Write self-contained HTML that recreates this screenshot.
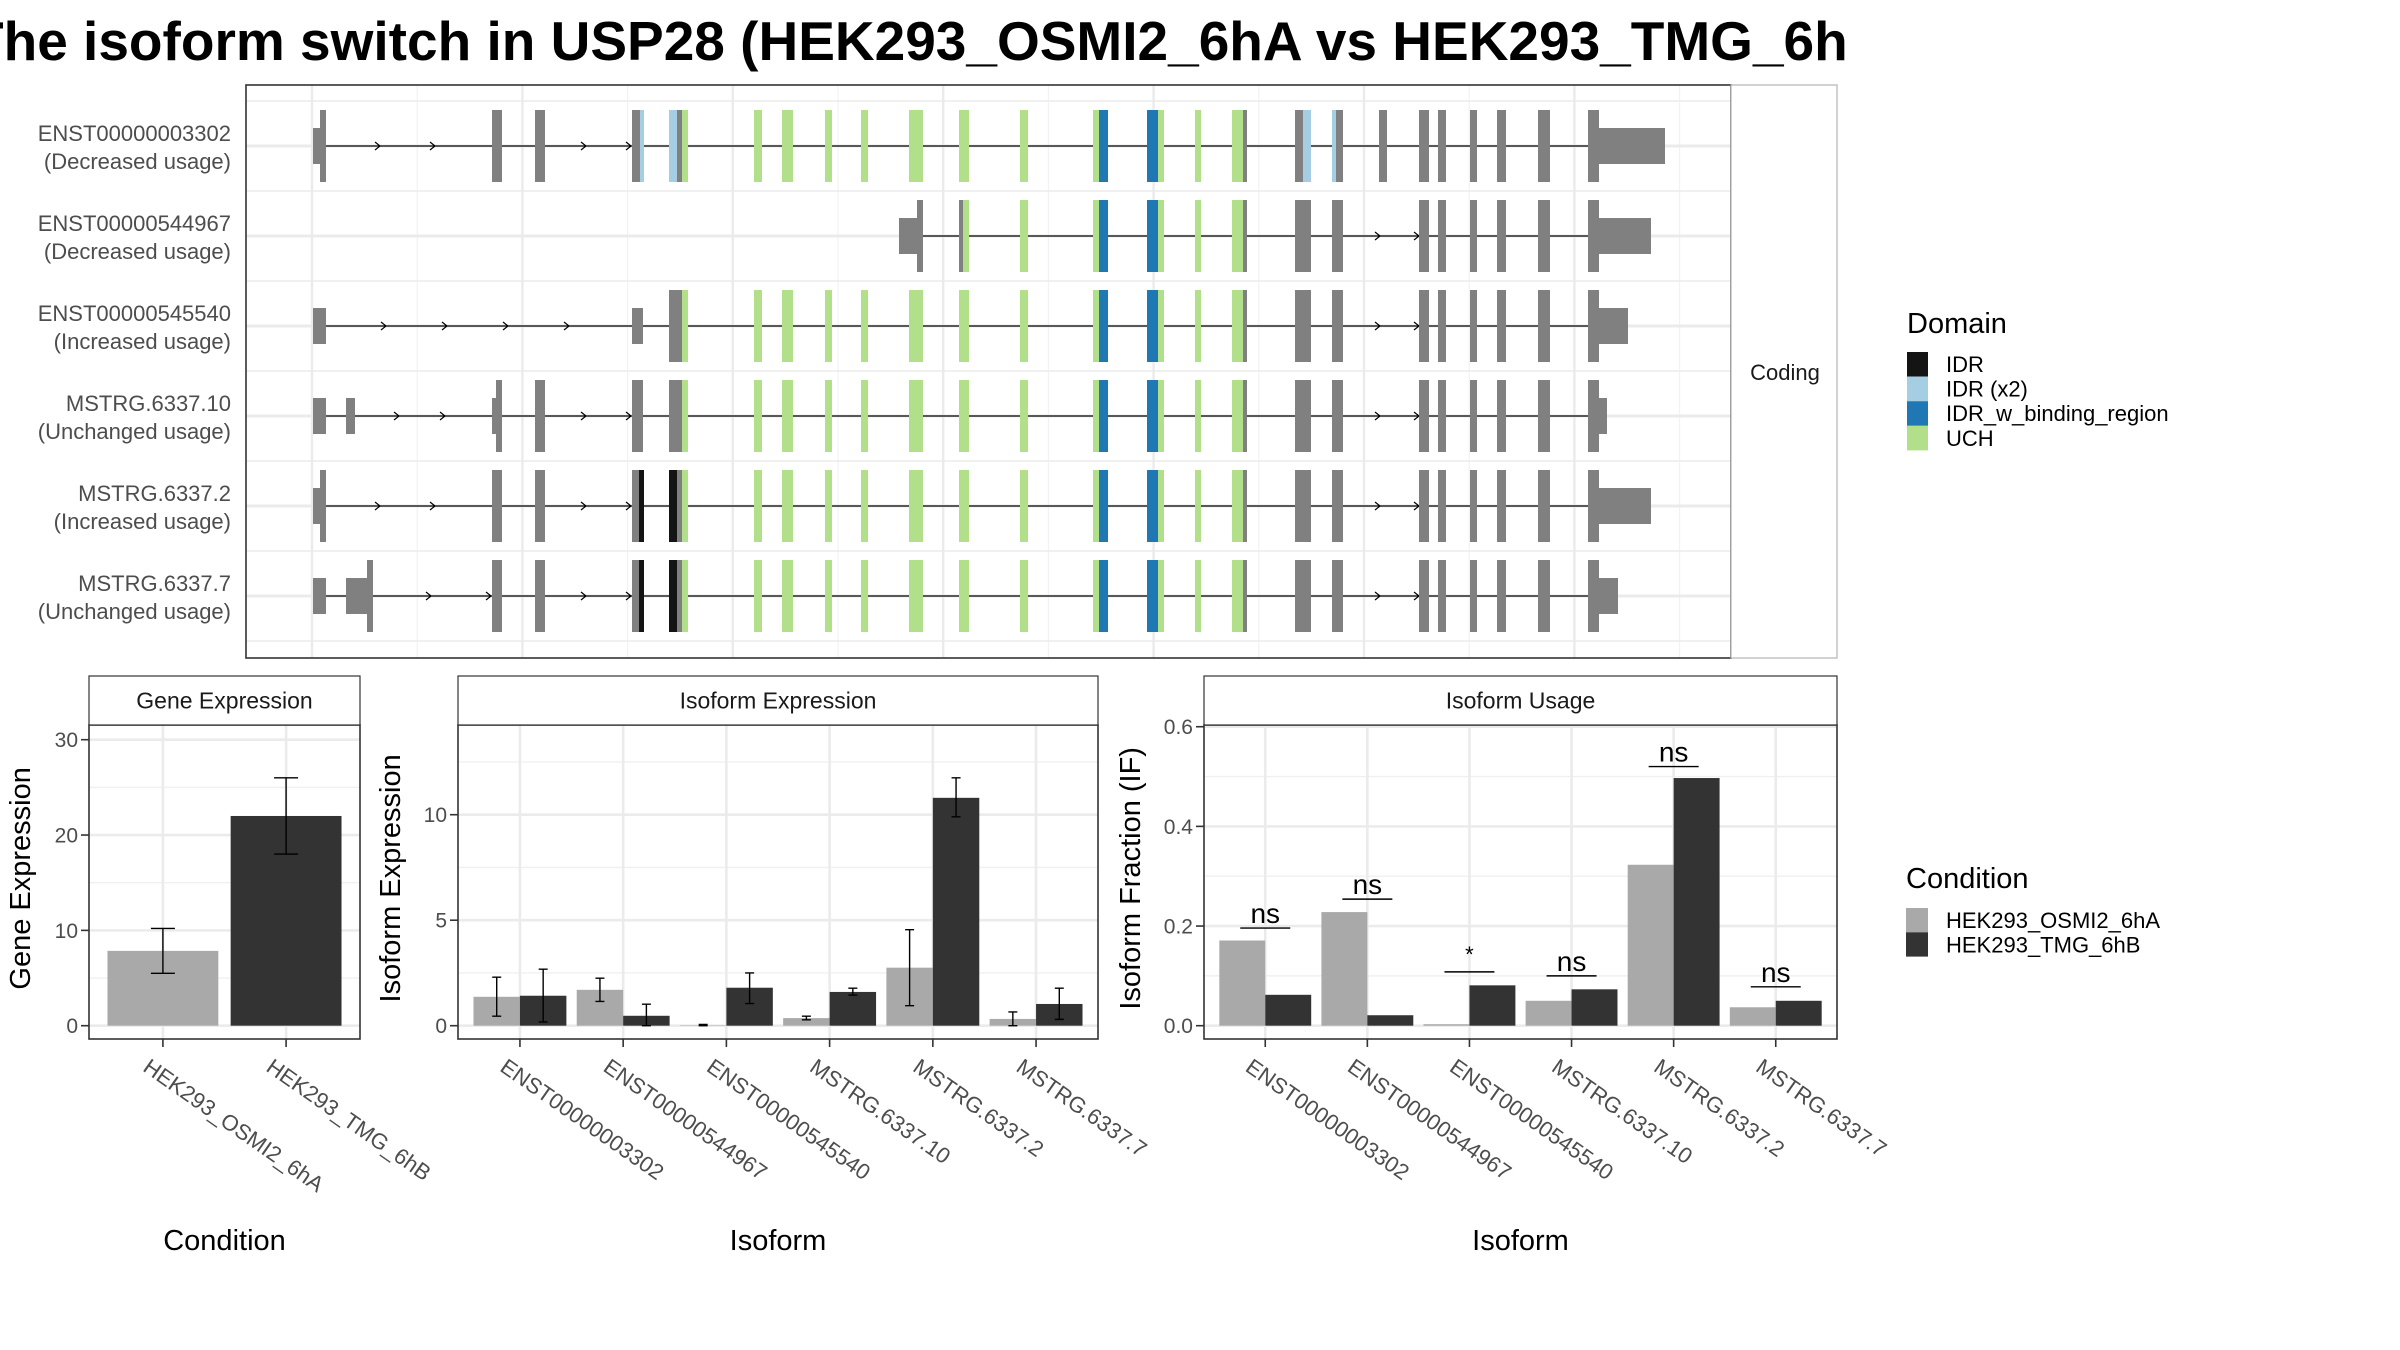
<!DOCTYPE html>
<html><head><meta charset="utf-8"><style>
html,body{margin:0;padding:0;background:#fff}
svg{display:block;font-family:"Liberation Sans",Arial,sans-serif}
</style></head><body>
<svg id="root" width="2400" height="1350" viewBox="0 0 2400 1350" xmlns="http://www.w3.org/2000/svg">
<defs><clipPath id="titleclip"><rect x="0" y="0" width="1848" height="80"/></clipPath></defs>
<rect width="2400" height="1350" fill="#fff"/>
<g clip-path="url(#titleclip)"><text x="-30" y="60" font-size="55" font-weight="bold" fill="#000">The isoform switch in USP28 (HEK293_OSMI2_6hA vs HEK293_TMG_6hB)</text></g>
<g id="topPanel"></g>
<g id="gene"></g>
<g id="iso"></g>
<g id="usage"></g>
<g id="legends"></g>
</svg>
<script>
// ---------- Data ----------
const transcriptNames = ["ENST00000003302","ENST00000544967","ENST00000545540","MSTRG.6337.10","MSTRG.6337.2","MSTRG.6337.7"];
const transcriptUsage = ["(Decreased usage)","(Decreased usage)","(Increased usage)","(Unchanged usage)","(Increased usage)","(Unchanged usage)"];
// exon segments: [start, end, colorKey, tall(1)/short(0)] in genomic plot units
const midExons = [[754,762,"u",1],[782,793,"u",1],[825,832,"u",1],[861,868,"u",1],[909,923,"u",1],[959,969,"u",1],[1020,1028,"u",1],[1093,1099,"u",1],[1099,1108,"b",1],[1147,1158,"b",1],[1158,1164,"u",1],[1195,1201,"u",1],[1232,1243,"u",1],[1243,1247,"g",1]];
const lateExons = [[1295,1311,"g",1],[1332,1343,"g",1],[1419,1429,"g",1],[1438,1446,"g",1],[1470,1477,"g",1],[1497,1506,"g",1],[1538,1550,"g",1],[1588,1599,"g",1]];
const exonsEarly = [
 [[313,320,"g",0],[320,326,"g",1],[492,502,"g",1],[535,545,"g",1],[632,640,"g",1],[640,644,"l",1],[669,677,"l",1],[677,682,"g",1],[682,688,"u",1]],
 [[899,917,"g",0],[917,923,"g",1]],
 [[313,326,"g",0],[632,643,"g",0],[669,682,"g",1],[682,688,"u",1]],
 [[313,326,"g",0],[346,355,"g",0],[492,496,"g",0],[496,502,"g",1],[535,545,"g",1],[632,643,"g",1],[669,682,"g",1],[682,688,"u",1]],
 [[313,320,"g",0],[320,326,"g",1],[492,502,"g",1],[535,545,"g",1],[632,639,"g",1],[639,644,"k",1],[669,677,"k",1],[677,682,"g",1],[682,688,"u",1]],
 [[313,326,"g",0],[346,367,"g",0],[367,373,"g",1],[492,502,"g",1],[535,545,"g",1],[632,639,"g",1],[639,644,"k",1],[669,677,"k",1],[677,682,"g",1],[682,688,"u",1]]
];
const utrEnd = [1665,1651,1628,1607,1651,1618];
const intronArrows = [[379,434,585,630],[1379,1418],[385,446,507,568,1379,1418],[398,444,585,630,1379,1418],[379,434,585,630,1379,1418],[430,490,585,630,1379,1418]];

const conditions = ["HEK293_OSMI2_6hA","HEK293_TMG_6hB"];
const geneExpr = [7.85, 22.0];
const geneLo = [5.5, 18.0];
const geneHi = [10.2, 26.0];
const geneTicks = [0,10,20,30];

const isoforms = ["ENST00000003302","ENST00000544967","ENST00000545540","MSTRG.6337.10","MSTRG.6337.2","MSTRG.6337.7"];
const isoA = [1.37,1.70,0.02,0.36,2.75,0.32];
const isoB = [1.42,0.47,1.80,1.60,10.80,1.03];
const isoALo = [0.45,1.15,0.0,0.28,0.95,0.0];
const isoAHi = [2.30,2.25,0.06,0.45,4.55,0.65];
const isoBLo = [0.18,0.0,1.05,1.45,9.90,0.30];
const isoBHi = [2.68,1.02,2.50,1.78,11.75,1.78];
const isoTicks = [0,5,10];

const usageA = [0.171,0.228,0.003,0.050,0.323,0.037];
const usageB = [0.062,0.021,0.081,0.073,0.497,0.050];
const sigLabels = ["ns","ns","*","ns","ns","ns"];
const sigY = [0.196,0.254,0.108,0.100,0.52,0.078];
const usageTicks = [0.0,0.2,0.4,0.6];
const usageTickLabels = ["0.0","0.2","0.4","0.6"];

const domainNames = ["IDR","IDR (x2)","IDR_w_binding_region","UCH"];
const domainColors = ["#141414","#a6cee3","#1f78b4","#b2df8a"];
const COL = {g:"#808080",l:"#a6cee3",b:"#1f78b4",k:"#141414",u:"#b2df8a"};
const LIGHT="#a9a9a9", DARK="#333333";

const SVGNS="http://www.w3.org/2000/svg";
function mk(parent,tag,attrs,text){const e=document.createElementNS(SVGNS,tag);for(const k in attrs)e.setAttribute(k,attrs[k]);if(text!==undefined)e.textContent=text;parent.appendChild(e);return e;}

// ---------- Top transcript panel ----------
const topG=document.getElementById('topPanel');
const P={l:246,t:85,r:1731,b:658};
const gx=v=>v; // genomic units map 1:1 to px
const rowY=i=>146+i*90;
for(let k=0;k<7;k++){const x=312+k*210.4;
  const ln=mk(topG,'line',{x1:x,x2:x,y1:P.t,y2:P.b,stroke:'#ebebeb','stroke-width':2.4});
  
  const m=mk(topG,'line',{x1:x+105.2,x2:x+105.2,y1:P.t,y2:P.b,stroke:'#f2f2f2','stroke-width':1.2});
  
}
for(let i=0;i<6;i++){
  const y=rowY(i);
  const g1=mk(topG,'line',{x1:P.l,x2:P.r,y1:y,y2:y,stroke:'#ebebeb','stroke-width':3});
  
  const g2=mk(topG,'line',{x1:P.l,x2:P.r,y1:y-45,y2:y-45,stroke:'#ebebeb','stroke-width':1.5});
  
}
const g3=mk(topG,'line',{x1:P.l,x2:P.r,y1:rowY(5)+45,y2:rowY(5)+45,stroke:'#ebebeb','stroke-width':1.5});


for(let i=0;i<6;i++){
  const y=rowY(i);
  const grp=mk(topG,'g',{});
  
  let ex=exonsEarly[i].slice();
  if(i===1){ex=ex.concat([[959,963,"g",1],[963,969,"u",1]]).concat(midExons.filter(e=>e[0]>=1020));}
  else ex=ex.concat(midExons);
  let late=lateExons.slice();
  if(i===0){late=[[1295,1303,"g",1],[1303,1311,"l",1],[1332,1336,"l",1],[1336,1343,"g",1],[1379,1387,"g",1]].concat(lateExons.slice(2));}
  ex=ex.concat(late);
  ex.push([1599,utrEnd[i],"g",0]);
  const x0=gx(ex[0][0]), x1=gx(utrEnd[i]);
  const intr=mk(grp,'line',{x1:x0,x2:x1,y1:y,y2:y,stroke:'#000','stroke-width':1.3});
  
  intronArrows[i].forEach(a=>{const p=mk(grp,'path',{d:`M${gx(a)-4},${y-4} L${gx(a)+1},${y} L${gx(a)-4},${y+4}`,fill:'none',stroke:'#000','stroke-width':1.2});
    });
  ex.forEach(e=>{const h=e[3]?36:18;const r=mk(grp,'rect',{x:gx(e[0]),y:y-h,width:gx(e[1])-gx(e[0]),height:2*h,fill:COL[e[2]]});
    });
  const t1=mk(topG,'text',{x:231,y:y-5,'text-anchor':'end','font-size':22,fill:'#4d4d4d'},transcriptNames[i]);
  
  const t2=mk(topG,'text',{x:231,y:y+23,'text-anchor':'end','font-size':22,fill:'#4d4d4d'},transcriptUsage[i]);
  
}
const pb=mk(topG,'rect',{x:P.l,y:P.t,width:P.r-P.l,height:P.b-P.t,fill:'none',stroke:'#333','stroke-width':1.6});

const sb=mk(topG,'rect',{x:P.r,y:P.t,width:106,height:P.b-P.t,fill:'#fff',stroke:'#b3b3b3','stroke-width':1.2});

const st=mk(topG,'text',{x:1785,y:380,'text-anchor':'middle','font-size':22,fill:'#1a1a1a'},'Coding');


// ---------- generic bar panel ----------
function panel(gid,opt){
  const G=document.getElementById(gid);
  const {l,r,t,b,stripTop,title,cats,ymin,ticks,tickLabels,ytitle,ytitleX,xtitle}=opt;
  const yS=v=>opt.y0+(v)*opt.k;
  const n=cats.length; const s=(r-l)/(n-1+1.2);
  const xS=i=>l+0.6*s+i*s;
  for(let j=0;j<ticks.length;j++){const y=yS(ticks[j]);
    const gl=mk(G,'line',{x1:l,x2:r,y1:y,y2:y,stroke:'#ebebeb','stroke-width':2.6});
    const mv=ticks[j]+(ticks[1]-ticks[0])/2;const ym=yS(mv);
    if(ym>t){const ml=mk(G,'line',{x1:l,x2:r,y1:ym,y2:ym,stroke:'#f0f0f0','stroke-width':1.4});}}
  for(let i=0;i<n;i++){const gl=mk(G,'line',{x1:xS(i),x2:xS(i),y1:t,y2:b,stroke:'#ebebeb','stroke-width':2.6});}
  opt.draw(G,xS,yS,s);
  const bd=mk(G,'rect',{x:l,y:t,width:r-l,height:b-t,fill:'none',stroke:'#333','stroke-width':1.6});
  
  const sr=mk(G,'rect',{x:l,y:stripTop,width:r-l,height:t-stripTop,fill:'#fff',stroke:'#333','stroke-width':1.2});
  
  const stt=mk(G,'text',{x:(l+r)/2,y:(stripTop+t)/2+8,'text-anchor':'middle','font-size':23,fill:'#1a1a1a'},title);
  
  ticks.forEach((v,j)=>{const y=yS(v);
    const tk=mk(G,'line',{x1:l-8,x2:l,y1:y,y2:y,stroke:'#333','stroke-width':1.6});
    const tl=mk(G,'text',{x:l-11,y:y+7.5,'text-anchor':'end','font-size':21,fill:'#4d4d4d'},tickLabels[j]);});
  cats.forEach((c,i)=>{const x=xS(i);
    const tk=mk(G,'line',{x1:x,x2:x,y1:b,y2:b+8,stroke:'#333','stroke-width':1.6});
    const tl=mk(G,'text',{x:x-12,y:b+18,'font-size':22,fill:'#4d4d4d',transform:`rotate(35 ${x-12} ${b+18})`,'dominant-baseline':'hanging'},c);});
  const cy=(t+yS(ymin))/2+3;
  const yt=mk(G,'text',{x:ytitleX,y:cy,'text-anchor':'middle','font-size':29,fill:'#000',transform:`rotate(-90 ${ytitleX} ${cy})`},ytitle);
  
  const xt=mk(G,'text',{x:(l+r)/2,y:1250,'text-anchor':'middle','font-size':29,fill:'#000'},xtitle);
  
}
function errbar(G,x,lo,hi,yS,w){
  const p=mk(G,'path',{d:`M${x-w},${yS(hi)}H${x+w}M${x},${yS(hi)}V${yS(lo)}M${x-w},${yS(lo)}H${x+w}`,stroke:'#000','stroke-width':1.4,fill:'none'});
  
}

panel('gene',{l:89,r:360,t:725,b:1039,stripTop:676,title:'Gene Expression',cats:conditions,y0:1025.7,k:-9.533,ymin:0,ticks:geneTicks,tickLabels:geneTicks.map(String),ytitle:'Gene Expression',ytitleX:30,xtitle:'Condition',
 draw:(G,xS,yS,s)=>{conditions.forEach((c,i)=>{const w=0.9*s;
   const rc=mk(G,'rect',{x:xS(i)-w/2,y:yS(geneExpr[i]),width:w,height:yS(0)-yS(geneExpr[i]),fill:i?DARK:LIGHT});
   
   errbar(G,xS(i),geneLo[i],geneHi[i],yS,12);});}});

panel('iso',{l:458,r:1098,t:725,b:1039,stripTop:676,title:'Isoform Expression',cats:isoforms,y0:1025.7,k:-21.1,ymin:0,ticks:isoTicks,tickLabels:isoTicks.map(String),ytitle:'Isoform Expression',ytitleX:400,xtitle:'Isoform',
 draw:(G,xS,yS,s)=>{isoforms.forEach((c,i)=>{const w=0.45*s;
   const a=mk(G,'rect',{x:xS(i)-w,y:yS(isoA[i]),width:w,height:yS(0)-yS(isoA[i]),fill:LIGHT});
   
   const bb=mk(G,'rect',{x:xS(i),y:yS(isoB[i]),width:w,height:yS(0)-yS(isoB[i]),fill:DARK});
   
   errbar(G,xS(i)-w/2,isoALo[i],isoAHi[i],yS,4.5);errbar(G,xS(i)+w/2,isoBLo[i],isoBHi[i],yS,4.5);});}});

panel('usage',{l:1204,r:1837,t:725,b:1039,stripTop:676,title:'Isoform Usage',cats:isoforms,y0:1025.7,k:-498.3,ymin:0,ticks:usageTicks,tickLabels:usageTickLabels,ytitle:'Isoform Fraction (IF)',ytitleX:1140,xtitle:'Isoform',
 draw:(G,xS,yS,s)=>{isoforms.forEach((c,i)=>{const w=0.45*s;
   const a=mk(G,'rect',{x:xS(i)-w,y:yS(usageA[i]),width:w,height:yS(0)-yS(usageA[i]),fill:LIGHT});
   
   const bb=mk(G,'rect',{x:xS(i),y:yS(usageB[i]),width:w,height:yS(0)-yS(usageB[i]),fill:DARK});
   
   const ln=mk(G,'line',{x1:xS(i)-25,x2:xS(i)+25,y1:yS(sigY[i]),y2:yS(sigY[i]),stroke:'#000','stroke-width':1.4});
   
   const tx=mk(G,'text',{x:xS(i),y:yS(sigY[i])-(sigLabels[i]==='*'?10:5),'text-anchor':'middle','font-size':sigLabels[i]==='*'?22:28,fill:'#000'},sigLabels[i]);
   });}});

// ---------- Legends ----------
const LG=document.getElementById('legends');
const dt=mk(LG,'text',{x:1907,y:333,'font-size':29,fill:'#000'},'Domain');

domainNames.forEach((d,i)=>{const y=352+i*24.6;
  const rc=mk(LG,'rect',{x:1907,y:y,width:21,height:24.6,fill:domainColors[i]});
  
  const t=mk(LG,'text',{x:1946,y:y+20,'font-size':22,fill:'#000'},d);
  });
const ct=mk(LG,'text',{x:1906,y:888,'font-size':29,fill:'#000'},'Condition');

conditions.forEach((c,i)=>{const y=908+i*24.3;
  const rc=mk(LG,'rect',{x:1906,y:y,width:22,height:24.3,fill:i?DARK:LIGHT});
  
  const t=mk(LG,'text',{x:1946,y:y+20,'font-size':22,fill:'#000'},c);
  });
</script>
</body></html>
